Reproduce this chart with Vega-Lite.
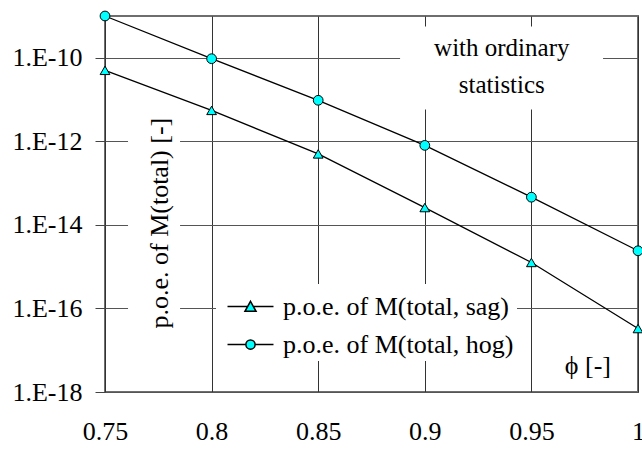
{
  "$schema": "https://vega.github.io/schema/vega-lite/v6.json",
  "width": 533,
  "height": 376,
  "autosize": {"type": "none"},
  "padding": {"left": 105, "top": 16, "right": 4, "bottom": 57},
  "background": "white",
  "config": {
    "font": "Liberation Serif",
    "view": {"stroke": "#6e6e6e", "strokeWidth": 2}
  },
  "data": {
    "values": [
      {"phi": 0.75, "series": "p.o.e. of M(total, sag)", "p": 5e-11},
      {"phi": 0.8, "series": "p.o.e. of M(total, sag)", "p": 5.5e-12},
      {"phi": 0.85, "series": "p.o.e. of M(total, sag)", "p": 5e-13},
      {"phi": 0.9, "series": "p.o.e. of M(total, sag)", "p": 2.6e-14},
      {"phi": 0.95, "series": "p.o.e. of M(total, sag)", "p": 1.26e-15},
      {"phi": 1.0, "series": "p.o.e. of M(total, sag)", "p": 3.3e-17},
      {"phi": 0.75, "series": "p.o.e. of M(total, hog)", "p": 1e-9},
      {"phi": 0.8, "series": "p.o.e. of M(total, hog)", "p": 9.5e-11},
      {"phi": 0.85, "series": "p.o.e. of M(total, hog)", "p": 9.6e-12},
      {"phi": 0.9, "series": "p.o.e. of M(total, hog)", "p": 8e-13},
      {"phi": 0.95, "series": "p.o.e. of M(total, hog)", "p": 4.6e-14},
      {"phi": 1.0, "series": "p.o.e. of M(total, hog)", "p": 2.4e-15}
    ]
  },
  "resolve": {"scale": {"shape": "independent"}},
  "layer": [
    {
      "data": {"values": [{}]},
      "mark": {"type": "rect", "color": "white"},
      "encoding": {
        "x": {"datum": 0.8884, "type": "quantitative", "scale": {"domain": [0.75, 1], "padding": 0, "nice": false, "zero": false}},
        "x2": {"datum": 0.9836},
        "y": {"datum": 5.6e-10, "type": "quantitative", "scale": {"type": "log", "domain": [1e-18, 1e-9], "padding": 0, "nice": false}},
        "y2": {"datum": 5.75e-12}
      }
    },
    {
      "data": {"values": [{}]},
      "mark": {"type": "rect", "color": "white"},
      "encoding": {
        "x": {"datum": 0.7608, "type": "quantitative"},
        "x2": {"datum": 0.7852},
        "y": {"datum": 4.9e-12, "type": "quantitative"},
        "y2": {"datum": 2.0e-17}
      }
    },
    {
      "mark": {"type": "line", "color": "black", "strokeWidth": 1.3},
      "encoding": {
        "x": {
          "field": "phi", "type": "quantitative",
          "scale": {"domain": [0.75, 1], "padding": 0, "nice": false, "zero": false},
          "axis": {
            "values": [0.75, 0.8, 0.85, 0.9, 0.95, 1],
            "format": ".2~f",
            "title": null,
            "domain": false,
            "ticks": false,
            "labelFont": "Liberation Serif",
            "labelFontSize": 26,
            "labelColor": "black",
            "labelPadding": 26,
            "labelFlush": false,
            "labelBound": false,
            "grid": true,
            "gridColor": "#333333",
            "gridWidth": 1
          }
        },
        "y": {
          "field": "p", "type": "quantitative",
          "scale": {"type": "log", "domain": [1e-18, 1e-9], "padding": 0, "nice": false},
          "axis": {
            "values": [1e-18, 1e-16, 1e-14, 1e-12, 1e-10],
            "labelExpr": "'1.E-' + round(-log(datum.value) / LN10)",
            "title": null,
            "domain": false,
            "tickSize": 10,
            "tickColor": "#444444",
            "labelFont": "Liberation Serif",
            "labelFontSize": 26,
            "labelColor": "black",
            "labelPadding": 13,
            "grid": true,
            "gridColor": "#555555",
            "gridWidth": 1
          }
        },
        "detail": {"field": "series"}
      }
    },
    {
      "mark": {"type": "point", "filled": true, "fill": "#00ffff", "stroke": "black", "strokeWidth": 1, "size": 95, "opacity": 1, "clip": false},
      "encoding": {
        "x": {"field": "phi", "type": "quantitative"},
        "y": {"field": "p", "type": "quantitative"},
        "shape": {
          "field": "series", "type": "nominal",
          "scale": {"domain": ["p.o.e. of M(total, sag)", "p.o.e. of M(total, hog)"], "range": ["triangle-up", "circle"]},
          "legend": null
        }
      }
    },
    {
      "transform": [{"filter": "false"}],
      "mark": {"type": "point", "filled": true, "fill": "#00ffff", "stroke": "black", "strokeWidth": 1, "size": 1369, "opacity": 1},
      "encoding": {
        "x": {"field": "phi", "type": "quantitative"},
        "y": {"field": "p", "type": "quantitative"},
        "shape": {
          "field": "series", "type": "nominal",
          "scale": {
            "domain": ["p.o.e. of M(total, sag)", "p.o.e. of M(total, hog)"],
            "range": [
              "M-1.243,0L-0.15,0M0.15,0L1.243,0M0,-0.28L0.3,0.26L-0.3,0.26Z",
              "M-1.243,0L-0.25,0M0.25,0L1.243,0M0.25,0A0.25,0.25,0,1,1,-0.25,0A0.25,0.25,0,1,1,0.25,0Z"
            ]
          },
          "legend": {
            "title": null,
            "orient": "none",
            "legendX": 111,
            "legendY": 268,
            "fillColor": "white",
            "padding": 3,
            "rowPadding": 5,
            "symbolSize": 1369,
            "symbolOffset": 12,
            "labelOffset": 13,
            "labelFont": "Liberation Serif",
            "labelFontSize": 26,
            "labelColor": "black",
            "labelLimit": 400,
            "encode": {
              "symbols": {
                "update": {
                  "fill": {"value": "#00ffff"},
                  "stroke": {"value": "black"},
                  "strokeWidth": {"value": 1},
                  "opacity": {"value": 1}
                }
              }
            }
          }
        }
      }
    },
    {
      "data": {"values": [{"label": "p.o.e. of M(total) [-]"}]},
      "mark": {"type": "text", "angle": 270, "align": "center", "baseline": "middle", "fontSize": 26, "font": "Liberation Serif", "color": "black"},
      "encoding": {
        "x": {"datum": 0.7758, "type": "quantitative"},
        "y": {"datum": 1.1e-14, "type": "quantitative"},
        "text": {"field": "label"}
      }
    },
    {
      "data": {"values": [{"label": ["with ordinary", "statistics"]}]},
      "mark": {"type": "text", "align": "center", "baseline": "middle", "fontSize": 25, "lineHeight": 37, "font": "Liberation Serif", "color": "black"},
      "encoding": {
        "x": {"datum": 0.9361, "type": "quantitative"},
        "y": {"datum": 1.74e-10, "type": "quantitative"},
        "text": {"field": "label"}
      }
    },
    {
      "data": {"values": [{"label": "ϕ [-]"}]},
      "mark": {"type": "text", "align": "center", "baseline": "middle", "fontSize": 26, "font": "Liberation Serif", "color": "black"},
      "encoding": {
        "x": {"datum": 0.9765, "type": "quantitative"},
        "y": {"datum": 4.2e-18, "type": "quantitative"},
        "text": {"field": "label"}
      }
    }
  ]
}
